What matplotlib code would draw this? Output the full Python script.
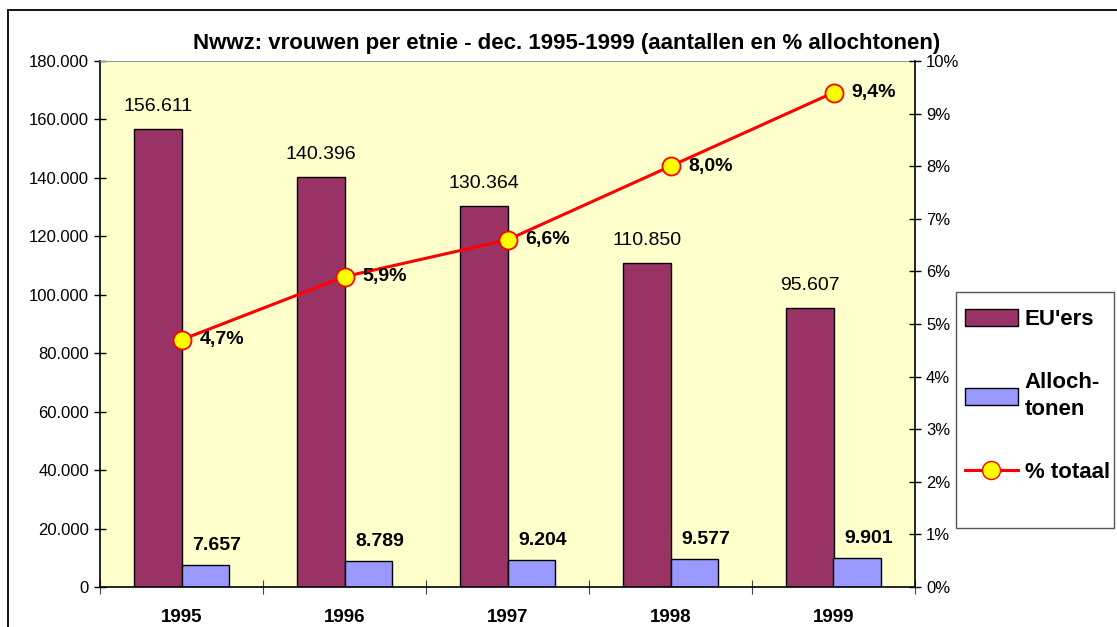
import matplotlib.pyplot as plt
import numpy as np
from matplotlib.patches import Patch, Rectangle
from matplotlib.lines import Line2D
from matplotlib.ticker import FuncFormatter, FixedLocator

plt.rcParams['font.family'] = ['Liberation Sans', 'DejaVu Sans']

years = ['1995', '1996', '1997', '1998', '1999']
eu = [156611, 140396, 130364, 110850, 95607]
alloch = [7657, 8789, 9204, 9577, 9901]
pct = [4.7, 5.9, 6.6, 8.0, 9.4]

W, H = 1117, 627
fig = plt.figure(figsize=(W / 100, H / 100), dpi=100)
fig.patch.set_facecolor('white')
fig.patches.append(Rectangle((8 / W, -0.01), 1.2, 1 - 10 / H + 0.01, transform=fig.transFigure,
                             fill=False, edgecolor='black', linewidth=1.3))

ax = fig.add_axes([100 / W, (H - 587) / H, 815 / W, (587 - 61) / H])
ax.set_facecolor('#FFFFCC')

x = np.arange(len(years))
bw = 0.29
ax.bar(x - bw / 2, eu, bw, color='#993366', edgecolor='black', linewidth=1, zorder=2)
ax.bar(x + bw / 2, alloch, bw, color='#9999FF', edgecolor='black', linewidth=1, zorder=2)

def nl(v):
    return '{:,}'.format(int(v)).replace(',', '.')

for i in range(len(years)):
    ax.annotate(nl(eu[i]), (x[i] - bw / 2, eu[i]), xytext=(0, 10), textcoords='offset points',
                ha='center', va='bottom', fontsize=14)
    ax.annotate(nl(alloch[i]), (x[i] + bw / 2 + 0.07, alloch[i]), xytext=(0, 8),
                textcoords='offset points', ha='center', va='bottom', fontsize=14, fontweight='bold')

ax.set_xlim(-0.5, len(years) - 0.5)
ax.set_ylim(0, 180000)
ax.set_yticks(np.arange(0, 180001, 20000))
ax.yaxis.set_major_formatter(FuncFormatter(lambda v, p: nl(v)))
ax.set_xticks(x)
ax.set_xticklabels(years, fontsize=13.5, fontweight='bold')
ax.tick_params(axis='x', length=0, pad=16)
ax.xaxis.set_minor_locator(FixedLocator(np.arange(-0.5, len(years), 1.0)))
ax.tick_params(axis='x', which='minor', direction='inout', length=10, width=0.8, color='#444444')
ax.tick_params(axis='y', direction='inout', length=8, width=1, labelsize=12, pad=4)
ax.spines['top'].set_color('#999999')
ax.spines['right'].set_visible(False)
for s in ['left', 'bottom']:
    ax.spines[s].set_linewidth(1.2)

ax2 = ax.twinx()
ax2.plot(x, pct, color='#FF0000', linewidth=2.2, marker='o', markersize=13,
         markerfacecolor='#FFFF00', markeredgecolor='#FF0000', markeredgewidth=1.3, zorder=3)
for i in range(len(years)):
    ax2.annotate('{:.1f}%'.format(pct[i]).replace('.', ','), (x[i], pct[i]), xytext=(13, 0),
                 textcoords='offset points', ha='left', va='center', fontsize=14, fontweight='bold')
ax2.set_ylim(0, 10)
ax2.set_yticks(np.arange(0, 11, 1))
ax2.yaxis.set_major_formatter(FuncFormatter(lambda v, p: '{:d}%'.format(int(v))))
ax2.tick_params(axis='y', direction='inout', length=8, width=1, labelsize=12, pad=4)
ax2.spines['right'].set_linewidth(1.2)
ax2.spines['top'].set_visible(False)
ax2.spines['left'].set_visible(False)
ax2.spines['bottom'].set_visible(False)

fig.text(567 / W, 1 - 44 / H, 'Nwwz: vrouwen per etnie - dec. 1995-1999 (aantallen en % allochtonen)',
         ha='center', va='center', fontsize=16, fontweight='bold')

# legend box
fig.patches.append(Rectangle((956 / W, 1 - 528 / H), (1114 - 956) / W, (528 - 292) / H,
                             transform=fig.transFigure, facecolor='white', edgecolor='#555555',
                             linewidth=1, zorder=5))
handles = [Patch(facecolor='#993366', edgecolor='black'),
           Patch(facecolor='#9999FF', edgecolor='black'),
           Line2D([], [], color='#FF0000', linewidth=2.2, marker='o', markersize=13,
                  markerfacecolor='#FFFF00', markeredgecolor='#FF0000')]
leg = fig.legend(handles, ["EU'ers", 'Alloch-\ntonen', '% totaal'], loc='upper left',
                 bbox_to_anchor=(958 / W, 1 - 302 / H), frameon=False,
                 prop={'size': 16, 'weight': 'bold'}, labelspacing=1.9,
                 handlelength=2.4, handleheight=0.8, borderpad=0.3, handletextpad=0.3,
                 borderaxespad=0)
leg.get_texts()[1].set_linespacing(1.35)
leg.set_zorder(6)

plt.savefig('out.png', dpi=100)
